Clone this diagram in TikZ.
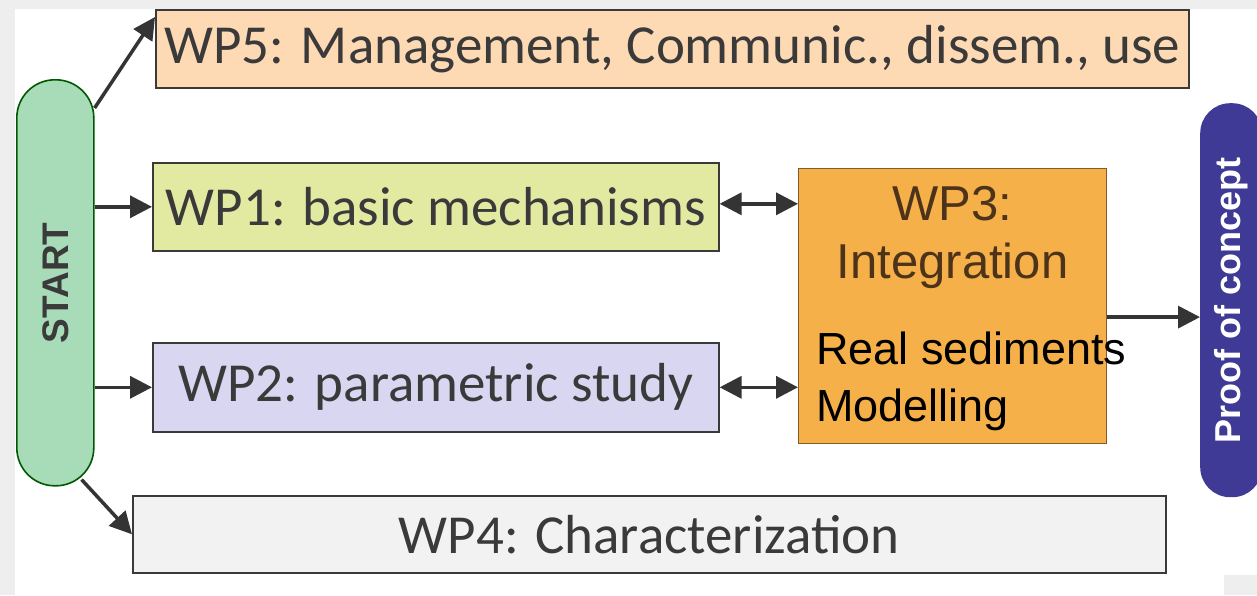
\documentclass[tikz,border=0pt]{standalone}
\usepackage{fontspec}
\setmainfont{Carlito}
\newfontfamily\arialfont{Liberation Sans}
\usetikzlibrary{arrows.meta,positioning}

\definecolor{startgreen}{RGB}{168,219,184}
\definecolor{wpfive}{RGB}{253,217,180}
\definecolor{wpone}{RGB}{226,234,162}
\definecolor{wptwo}{RGB}{216,214,240}
\definecolor{wpthree}{RGB}{245,176,74}
\definecolor{wpfour}{RGB}{242,242,242}
\definecolor{proofblue}{RGB}{62,58,150}
\definecolor{txtgray}{RGB}{58,58,58}
\definecolor{framegray}{RGB}{238,238,238}

\tikzset{
  wpbox/.style={draw=txtgray, line width=1.6pt, anchor=north west, inner sep=0pt,
    text=txtgray, font=\fontsize{55}{60}\selectfont},
  flow/.style={draw=txtgray!90!black, line width=3.5pt, -{Triangle[length=22pt,width=22pt]}},
  both/.style={flow, {Triangle[length=22pt,width=22pt]}-{Triangle[length=22pt,width=22pt]}}
}

\begin{document}
\begin{tikzpicture}[x=1pt,y=-1pt]
  \clip (0,0) rectangle (1257,595);
  % background
  \fill[framegray] (0,0) rectangle (1257,595);
  \fill[white] (15,9) rectangle (1257,595);
  \fill[framegray] (1224,575) rectangle (1257,595);

  % start and end
  \node (start) [draw=green!35!black, line width=1.6pt, fill=startgreen, rounded corners=38pt,
    minimum width=77pt, minimum height=406pt, anchor=north west, inner sep=0pt,
    text=txtgray, font=\arialfont\bfseries\fontsize{37}{40}\selectfont]
    at (16,79) {\rotatebox{90}{START}};
  \node (proof) [fill=proofblue, rounded corners=30pt, minimum width=62pt, minimum height=394pt,
    anchor=north west, inner sep=0pt, text=white,
    font=\arialfont\bfseries\fontsize{36}{40}\selectfont]
    at (1200,103) {\rotatebox{90}{Proof of concept}};

  % work packages
  \node (wp5) [wpbox, fill=wpfive, minimum width=1033pt, minimum height=78pt] at (155,9)
    {WP5: Management, Communic., dissem., use};
  \node (wp1) [wpbox, fill=wpone, minimum width=566pt, minimum height=88pt] at (152,162)
    {WP1: basic mechanisms};
  \node (wp2) [wpbox, fill=wptwo, minimum width=566pt, minimum height=89pt] at (152,342)
    {WP2: parametric study};
  \node (wp4) [wpbox, fill=wpfour, minimum width=1033pt, minimum height=77pt] at (132,495)
    {WP4: Characterization};
  \node (wp3) [draw=brown!70!black, line width=1.2pt, fill=wpthree, minimum width=308pt,
    minimum height=275pt, anchor=north west, inner sep=0pt] at (798,168) {};
  \node (wp3title) [below=18pt of wp3.north, align=center, inner sep=0pt, text=brown!40!black,
    font=\arialfont\fontsize{49}{58}\selectfont] {WP3:\\Integration};
  \node (wp3extra) [anchor=north west, align=left, inner sep=0pt,
    font=\arialfont\fontsize{45}{57}\selectfont] at (816,332) {Real sediments\\Modelling};

  % connectors
  \draw[flow] ([yshift=-29pt]start.north east) -- ([yshift=-8pt]wp5.north west);
  \draw[flow] (start.east |- wp1) -- (wp1.west);
  \draw[flow] (start.east |- wp2) -- (wp2.west);
  \draw[flow] ([xshift=-13pt,yshift=7pt]start.south east) -- (wp4.west);
  \draw[both] ([yshift=3pt]wp1.east) -- ([yshift=3pt]wp1.east -| wp3.west);
  \draw[both] (wp2.east) -- (wp2.east -| wp3.west);
  \draw[flow] ([yshift=-11pt]wp3.east) -- ([yshift=-11pt]wp3.east -| proof.west);
\end{tikzpicture}
\end{document}
